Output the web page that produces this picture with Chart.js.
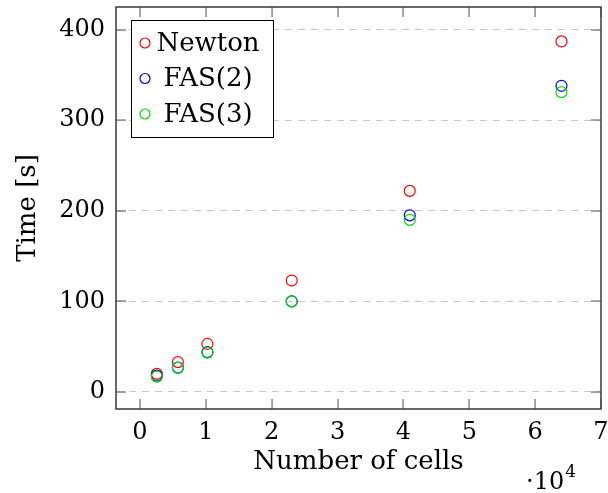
<!DOCTYPE html>
<html>
<head>
<meta charset="utf-8">
<script src="https://cdn.jsdelivr.net/npm/chart.js@4.4.1/dist/chart.umd.min.js"></script>
<style>
  html, body { margin: 0; padding: 0; background: #fff; }
</style>
</head>
<body>
<canvas id="timeChart" width="608" height="493"></canvas>
<script>
// number of cells and wall time [s] per solver
const cells = [2560, 5760, 10240, 23040, 40960, 64000];
const newtonTime = [20, 33, 53, 123, 222, 387];
const fas2Time = [18, 27, 44, 100, 195, 338];
const fas3Time = [17, 26.5, 43.5, 100, 190, 331];

const xTicks = [0, 1, 2, 3, 4, 5, 6, 7]; // units of 10^4
const yTicks = [0, 100, 200, 300, 400];

const serif = "'DejaVu Serif', serif";

function toPoints(ys) {
    return cells.map((c, i) => ({x: c, y: ys[i]}));
}

function circleSet(label, ys, color, order) {
    return {
        label: label,
        data: toPoints(ys),
        borderColor: color,
        backgroundColor: 'rgba(0,0,0,0)',
        pointStyle: 'circle',
        pointRadius: 5.5,
        pointHoverRadius: 5.5,
        pointBorderWidth: 1.2,
        showLine: false,
        order: order
    };
}

// inward tick marks, frame, boxed legend and the 10^4 factor
const axisDecor = {
    id: 'axisDecor',
    afterDraw(chart) {
        const ctx = chart.ctx;
        const a = chart.chartArea;
        const xs = chart.scales.x;
        const ys = chart.scales.y;
        const len = 10;

        ctx.save();
        ctx.setLineDash([]);
        ctx.fillStyle = '#777';
        xTicks.forEach(v => {
            const px = Math.round(xs.getPixelForValue(v * 1e4));
            ctx.fillRect(px - 0.6, a.bottom - len, 1.3, len);
            ctx.fillRect(px - 0.6, a.top, 1.3, len);
        });
        yTicks.forEach(v => {
            const py = Math.round(ys.getPixelForValue(v));
            ctx.fillRect(a.left, py - 0.6, len, 1.3);
            ctx.fillRect(a.right - len, py - 0.6, len, 1.3);
        });

        ctx.strokeStyle = '#444';
        ctx.lineWidth = 1.6;
        ctx.strokeRect(a.left, a.top, a.right - a.left, a.bottom - a.top);

        // legend
        const box = {x: 131.5, y: 20.5, w: 142, h: 117};
        ctx.fillStyle = '#fff';
        ctx.fillRect(box.x, box.y, box.w, box.h);
        ctx.strokeStyle = '#000';
        ctx.lineWidth = 1;
        ctx.strokeRect(box.x, box.y, box.w, box.h);
        ctx.font = '26px ' + serif;
        ctx.textAlign = 'center';
        ctx.textBaseline = 'middle';
        chart.data.datasets.forEach((ds, i) => {
            const cy = 43 + i * 35.5;
            ctx.strokeStyle = ds.borderColor;
            ctx.lineWidth = 1.2;
            ctx.beginPath();
            ctx.arc(145, cy, 5, 0, Math.PI * 2);
            ctx.stroke();
            ctx.fillStyle = '#000';
            ctx.fillText(ds.label, 208, cy + 1);
        });

        // scale factor of the x axis
        ctx.textAlign = 'left';
        ctx.textBaseline = 'alphabetic';
        ctx.font = '24px ' + serif;
        ctx.fillText('\u00b710', 526, 489);
        const w = ctx.measureText('\u00b710').width;
        ctx.font = '17px ' + serif;
        ctx.fillText('4', 526 + w + 1, 477);
        ctx.restore();
    }
};

new Chart(document.getElementById('timeChart'), {
    type: 'scatter',
    data: {
        datasets: [
            circleSet('Newton', newtonTime, '#ff0000', 3),
            circleSet('FAS(2)', fas2Time, '#0000ff', 2),
            circleSet('FAS(3)', fas3Time, '#00dd00', 1)
        ]
    },
    options: {
        responsive: false,
        animation: false,
        layout: {padding: {top: 7, right: 7, left: 0, bottom: 0}},
        plugins: {
            legend: {display: false},
            tooltip: {enabled: false}
        },
        scales: {
            x: {
                type: 'linear',
                min: -3640,
                max: 70000,
                afterBuildTicks: s => { s.ticks = xTicks.map(v => ({value: v * 1e4})); },
                afterFit: s => { s.height = 84; s.paddingLeft = 0; s.paddingRight = 0; },
                grid: {display: false, drawTicks: false},
                border: {display: false},
                ticks: {
                    includeBounds: false,
                    padding: 9,
                    color: '#000',
                    font: {family: serif, size: 24},
                    maxRotation: 0,
                    callback: v => String(v / 1e4)
                },
                title: {
                    display: true,
                    text: 'Number of cells',
                    color: '#000',
                    font: {family: serif, size: 26},
                    padding: {top: 0, bottom: 15}
                }
            },
            y: {
                type: 'linear',
                min: -18.8,
                max: 425,
                afterBuildTicks: s => { s.ticks = yTicks.map(v => ({value: v})); },
                afterFit: s => { s.width = 116; s.paddingTop = 0; s.paddingBottom = 0; },
                grid: {color: '#c8c8c8', lineWidth: 1, drawTicks: false},
                border: {display: false, dash: [7, 6]},
                ticks: {
                    includeBounds: false,
                    padding: 11,
                    color: '#000',
                    font: {family: serif, size: 24}
                },
                title: {
                    display: true,
                    text: 'Time [s]',
                    color: '#000',
                    font: {family: serif, size: 26},
                    padding: {top: 13, bottom: 0}
                }
            }
        }
    },
    plugins: [axisDecor]
});
</script>
</body>
</html>
